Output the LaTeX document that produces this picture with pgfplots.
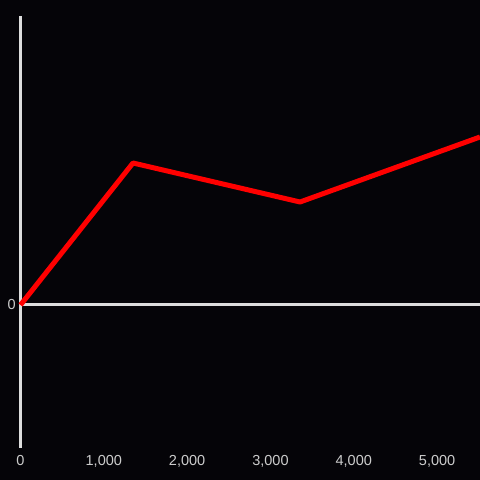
\documentclass[border=0pt]{standalone}
\usepackage{pgfplots}
\pgfplotsset{compat=1.18}
\usepackage{fontspec}
\setmainfont{Liberation Sans}
\definecolor{bg}{RGB}{5,4,8}
\definecolor{axl}{RGB}{221,221,221}
\definecolor{lbl}{RGB}{204,204,204}
\begin{document}
\begin{tikzpicture}[x=1pt,y=1pt]
\useasboundingbox (-20.5,-32) rectangle (459.5,448);
\fill[bg] (-20.5,-32) rectangle (459.5,448);
\begin{axis}[
  at={(0,0)}, anchor=south west,
  scale only axis, width=459.5pt, height=432pt,
  xmin=0, xmax=5515, ymin=-143, ymax=289,
  axis line style={draw=none},
  xtick={0,1000,2000,3000,4000,5000},
  ytick={0},
  major tick length=0pt,
  tick style={draw=none},
  /pgf/number format/assume math mode=true,
  /pgf/number format/1000 sep={,},
  scaled x ticks=false,
  ticklabel style={font=\fontsize{14.5}{16}\selectfont, text=lbl},
  xticklabel style={inner sep=0pt, yshift=-7.5pt},
  yticklabel style={inner sep=0pt, xshift=-4.5pt},
  clip=false,
]
\draw[axl, line width=3pt] (axis cs:0,-143) -- (axis cs:0,289);
\draw[axl, line width=3pt] (axis cs:0,0) -- (axis cs:5515,0);
\addplot[red, line width=5pt, line join=round, mark=none] coordinates {
  (0,0) (1350,142) (3355,103) (5515,168)
};
\end{axis}
\end{tikzpicture}
\end{document}
